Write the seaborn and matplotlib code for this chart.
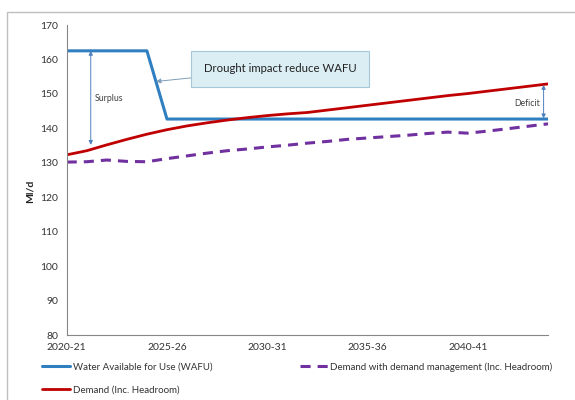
import numpy as np
import pandas as pd
import matplotlib
matplotlib.use("Agg")
import matplotlib.pyplot as plt
from matplotlib.patches import Rectangle
import seaborn as sns

# Planning years
years = ["2020-21", "2021-22", "2022-23", "2023-24", "2024-25", "2025-26",
         "2026-27", "2027-28", "2028-29", "2029-30", "2030-31", "2031-32",
         "2032-33", "2033-34", "2034-35", "2035-36", "2036-37", "2037-38",
         "2038-39", "2039-40", "2040-41", "2041-42", "2042-43", "2043-44",
         "2044-45"]

# Water Available for Use (Ml/d)
wafu = [162.5, 162.5, 162.5, 162.5, 162.5, 142.7, 142.7, 142.7, 142.7, 142.7,
        142.7, 142.7, 142.7, 142.7, 142.7, 142.7, 142.7, 142.7, 142.7, 142.7,
        142.7, 142.7, 142.7, 142.7, 142.7]

# Demand including headroom (Ml/d)
demand = [132.3, 133.5, 135.2, 136.8, 138.3, 139.6, 140.7, 141.6, 142.4, 143.1,
          143.7, 144.2, 144.6, 145.3, 146.0, 146.7, 147.4, 148.1, 148.8, 149.5,
          150.1, 150.8, 151.5, 152.2, 152.9]

# Demand with demand management including headroom (Ml/d)
demand_mgmt = [130.2, 130.3, 130.8, 130.4, 130.3, 131.2, 132.0, 132.8, 133.5, 134.0,
               134.6, 135.1, 135.7, 136.2, 136.8, 137.2, 137.6, 138.0, 138.5, 138.9,
               138.6, 139.2, 139.9, 140.6, 141.3]

tick_labels = ["2020-21", "2025-26", "2030-31", "2035-36", "2040-41"]

df = pd.DataFrame({"idx": np.arange(len(years)), "year": years,
                   "wafu": wafu, "demand": demand, "demand_mgmt": demand_mgmt})

sns.set_style("white")
plt.rcParams["font.family"] = ["Lato", "DejaVu Sans"]

fig = plt.figure(figsize=(5.75, 4.0), dpi=100)
ax = fig.add_axes([66.7 / 575, 65 / 400, (548 - 66.7) / 575, (335 - 25) / 400])

blue = "#2F7FC1"
red = "#C00000"
purple = "#7030A0"

sns.lineplot(data=df, x="idx", y="wafu", ax=ax, color=blue, lw=2.2,
             label="Water Available for Use (WAFU)")
sns.lineplot(data=df, x="idx", y="demand", ax=ax, color=red, lw=2.0,
             label="Demand (Inc. Headroom)")
sns.lineplot(data=df, x="idx", y="demand_mgmt", ax=ax, color=purple, lw=2.2,
             label="Demand with demand management (Inc. Headroom)",
             dashes=False)
ax.lines[-1].set_dashes((3.3, 2.3))

ax.set_xlim(0, len(years) - 1)
ax.set_ylim(80, 170)
ax.set_yticks(np.arange(80, 171, 10))
ax.set_xticks(np.arange(len(years)))
ax.set_xticklabels([y if y in tick_labels else "" for y in years])
ax.set_xlabel("")
ax.set_ylabel("")
ax.tick_params(axis="both", labelsize=7.5, length=3, width=0.6,
               direction="out", pad=3)
ax.tick_params(axis="x", colors="#868686", labelcolor="#333333")
ax.tick_params(axis="y", colors="#868686", labelcolor="#333333")
for side in ["top", "right"]:
    ax.spines[side].set_visible(False)
for side in ["left", "bottom"]:
    ax.spines[side].set_color("#868686")
    ax.spines[side].set_linewidth(0.8)

# Surplus and deficit markers
arrow_col = "#4F81BD"
ax.annotate("", xy=(1.2, 162.5), xytext=(1.2, 135.2),
            arrowprops=dict(arrowstyle="<|-|>", color=arrow_col, lw=0.7,
                            mutation_scale=6, shrinkA=0, shrinkB=0))
ax.text(2.1, 148.7, "Surplus", fontsize=6.3, color="#404040", ha="center", va="center")
ax.annotate("", xy=(23.78, 152.6), xytext=(23.78, 142.9),
            arrowprops=dict(arrowstyle="<|-|>", color=arrow_col, lw=0.7,
                            mutation_scale=6, shrinkA=0, shrinkB=0))
ax.text(22.95, 147.3, "Deficit", fontsize=6.3, color="#404040", ha="center", va="center")

# Callout for the drought step
ax.annotate("Drought impact reduce WAFU", xy=(4.45, 153.6), xytext=(10.64, 157.3),
            fontsize=8.2, color="#222222", ha="center", va="center",
            bbox=dict(boxstyle="square,pad=1.1", fc="#DAEEF3", ec="#A5C8D8", lw=0.8),
            arrowprops=dict(arrowstyle="-|>", color="#7F9DB9", lw=0.7,
                            mutation_scale=7, shrinkA=0, shrinkB=0))

fig.text(30 / 575, 1 - 191.7 / 400, "Ml/d", rotation=90, fontsize=7.5,
         fontweight="bold", ha="center", va="center", color="#222222")

# Legend below the plot
handles, labels = ax.get_legend_handles_labels()
ax.get_legend().remove()
fig.legend(handles, labels,
           loc="upper left", bbox_to_anchor=(42 / 575, 1 - 362 / 400), ncol=2,
           frameon=False, fontsize=7, borderpad=0, borderaxespad=0,
           handlelength=2.9, handletextpad=0.25, labelspacing=1.45,
           columnspacing=9.0, labelcolor="#333333")

# Chart border
fig.patches.append(Rectangle((7 / 575, -0.05), 1.0, 1 - 12 / 400 + 0.05,
                             transform=fig.transFigure, fill=False,
                             ec="#BFBFBF", lw=1.0))

fig.savefig("out.png", dpi=100)
